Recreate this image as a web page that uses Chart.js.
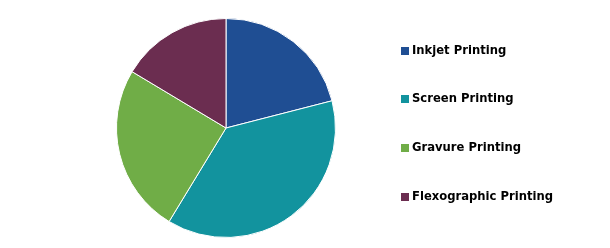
<!DOCTYPE html>
<html>
<head>
<meta charset="utf-8">
<script src="https://cdn.jsdelivr.net/npm/chart.js@4"></script>
<style>
  html, body { margin: 0; padding: 0; background: #fff; }
  #wrap { width: 610px; height: 248px; }
</style>
</head>
<body>
<div id="wrap"><canvas id="myChart"></canvas></div>
<script>
// data (share of total, %)
var segments = ["Inkjet Printing", "Screen Printing", "Gravure Printing", "Flexographic Printing"];
var shares = [21.0, 37.7, 24.9, 16.4];
var colors = ["#1f4e93", "#12939e", "#70ad47", "#6b2d50"];

// legend drawn on the canvas, one row per segment
var sideLegend = {
  id: "sideLegend",
  afterDraw: function (chart) {
    var c = chart.ctx;
    var labels = chart.data.labels;
    var bg = chart.data.datasets[0].backgroundColor;
    c.save();
    c.font = "bold 11.6px 'DejaVu Sans'";
    c.textBaseline = "middle";
    for (var i = 0; i < labels.length; i++) {
      var y = 50.5 + i * 48.7;
      c.fillStyle = bg[i];
      c.fillRect(401, Math.round(y) - 4, 8, 8);
      c.fillStyle = "#000";
      c.fillText(labels[i], 412, y);
    }
    c.restore();
  },
};

var ctx = document.getElementById("myChart").getContext("2d");
var chart = new Chart(ctx, {
  type: "pie",
  data: {
    labels: segments,
    datasets: [
      {
        data: shares,
        backgroundColor: colors,
        borderColor: "#fff",
        borderWidth: 1,
      },
    ],
  },
  options: {
    responsive: true,
    maintainAspectRatio: false,
    animation: false,
    layout: {
      padding: { left: 116, right: 274, top: 18, bottom: 10 },
    },
    plugins: {
      legend: { display: false },
      tooltip: { enabled: false },
    },
  },
  plugins: [sideLegend],
});
</script>
</body>
</html>
